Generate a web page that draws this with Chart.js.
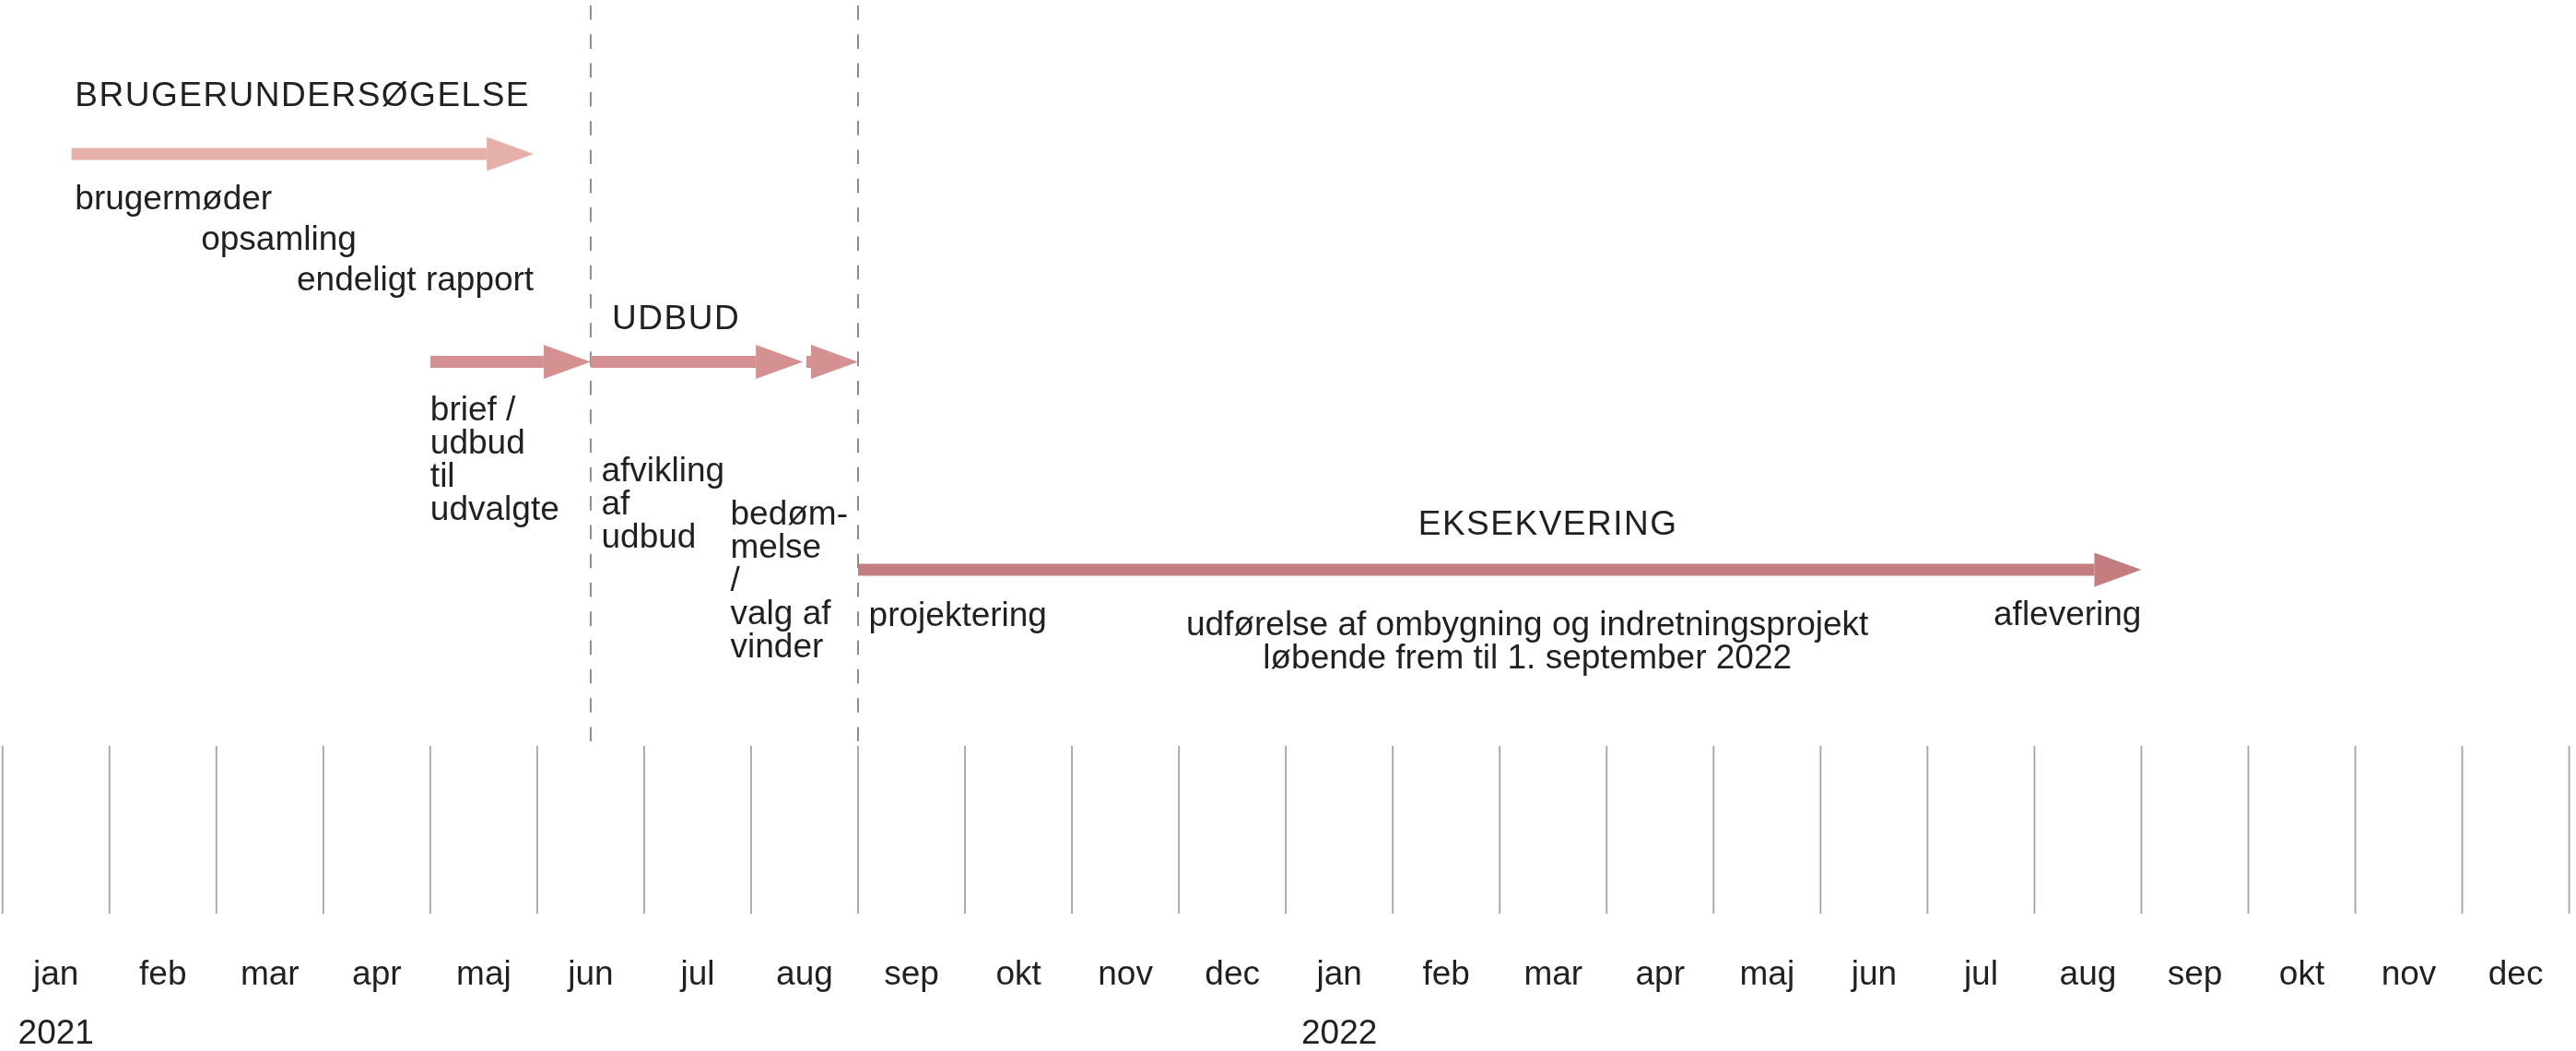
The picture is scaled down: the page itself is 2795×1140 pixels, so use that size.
<!DOCTYPE html>
<html>
<head>
<meta charset="utf-8">
<script src="https://cdn.jsdelivr.net/npm/chart.js@4.4.1/dist/chart.umd.min.js"></script>
<style>
  html, body { margin: 0; padding: 0; background: #ffffff; }
  #wrap { width: 2795px; height: 1140px; position: relative; }
</style>
</head>
<body>
<div id="wrap"><canvas id="c"></canvas></div>
<script>
// ---------------- DATA ----------------
const monthLabels = ['jan','feb','mar','apr','maj','jun','jul','aug','sep','okt','nov','dec',
                     'jan','feb','mar','apr','maj','jun','jul','aug','sep','okt','nov','dec'];
const yearLabels  = ['2021','','','','','','','','','','','',
                     '2022','','','','','','','','','','',''];

const phaseNames      = ['BRUGERUNDERSØGELSE', 'UDBUD', 'EKSEKVERING'];
const phaseLabelDates = ['2021-01-22', '2021-06-22', '2022-03-15'];

const stepNames  = ['brugerundersøgelse', 'brief / udbud til udvalgte', 'afvikling af udbud',
                    'bedømmelse / valg af vinder', 'eksekvering'];
const stepStarts = ['2021-01-21', '2021-05-01', '2021-06-16', '2021-08-17', '2021-09-01'];
const stepEnds   = ['2021-05-31', '2021-06-16', '2021-08-16', '2021-09-01', '2022-09-01'];
const stepPhase  = [0, 1, 1, 1, 2];

const milestoneDates = ['2021-06-16', '2021-09-01'];

const noteTexts = [
  ['brugermøder'],
  ['opsamling'],
  ['endeligt rapport'],
  ['brief /', 'udbud', 'til', 'udvalgte'],
  ['afvikling', 'af', 'udbud'],
  ['bedøm-', 'melse', '/', 'valg af', 'vinder'],
  ['projektering'],
  ['udførelse af ombygning og indretningsprojekt', 'løbende frem til 1. september 2022'],
  ['aflevering']
];
const noteDates = ['2021-01-22', '2021-02-25', '2021-05-31', '2021-05-01', '2021-06-19',
                   '2021-07-26', '2021-09-04', '2022-03-09', '2022-09-01'];
const notePhase = [0, 0, 0, 1, 1, 1, 2, 2, 2];

// ---------------- LAYOUT / STYLE ----------------
const FONT = '"Liberation Sans", Arial, Helvetica, sans-serif';
const FONT_SIZE = 37;
const TEXT_COLOR = '#231f20';
const stepColors = ['#e6b0aa', '#d59191', '#d59191', '#d59191', '#c47d7e'];
const phaseLabelAlign = ['left', 'left', 'center'];
const phaseLabelDy = [-52, -35.5, -38];
const noteAlign = ['left', 'left', 'right', 'left', 'left', 'left', 'left', 'center', 'right'];
const noteDy = [60, 104, 148, 63.5, 129.5, 176.5, 61, 71, 60];
const LINE_H = 36;
const SHAFT = 13, HEAD_LEN = 51, HEAD_HALF = 18.5;
const GRID_SPAN = 182;
const DASH_TOP = 6;

function monthIndex(s) {
  const [Y, M, D] = s.split('-').map(Number);
  const dim = new Date(Y, M, 0).getDate();
  return (Y - 2021) * 12 + (M - 1) + (D - 1) / dim;
}

const datasets = stepNames.map((name, i) => ({
  label: name,
  data: [
    { x: monthIndex(stepStarts[i]), y: stepPhase[i] },
    { x: monthIndex(stepEnds[i]),   y: stepPhase[i] }
  ],
  xAxisID: 't',
  yAxisID: 'y',
  showLine: false,
  pointRadius: 0,
  pointHoverRadius: 0,
  backgroundColor: stepColors[i],
  borderColor: stepColors[i]
}));

const timelinePlugin = {
  id: 'timeline',
  beforeDatasetsDraw(chart) {
    const { ctx, chartArea, scales } = chart;
    const t = scales.t;
    ctx.save();
    ctx.strokeStyle = '#a3a3a3';
    ctx.lineWidth = 1.8;
    const gTop = chartArea.bottom - GRID_SPAN;
    for (let i = 0; i <= monthLabels.length; i++) {
      const x = t.getPixelForValue(i);
      ctx.beginPath();
      ctx.moveTo(x, gTop);
      ctx.lineTo(x, chartArea.bottom);
      ctx.stroke();
    }
    ctx.strokeStyle = '#8c8c8c';
    ctx.lineWidth = 2;
    ctx.setLineDash([15.6, 15.7]);
    milestoneDates.forEach(d => {
      const x = t.getPixelForValue(monthIndex(d));
      ctx.beginPath();
      ctx.moveTo(x, DASH_TOP);
      ctx.lineTo(x, gTop);
      ctx.stroke();
    });
    ctx.restore();
  },
  afterDatasetsDraw(chart) {
    const { ctx, scales } = chart;
    const t = scales.t, y = scales.y;
    ctx.save();
    chart.data.datasets.forEach((ds, i) => {
      const meta = chart.getDatasetMeta(i);
      const p0 = meta.data[0], p1 = meta.data[1];
      const yc = p0.y;
      const base = p1.x - HEAD_LEN;
      ctx.fillStyle = ds.backgroundColor;
      if (base > p0.x) ctx.fillRect(p0.x, yc - SHAFT / 2, base - p0.x, SHAFT);
      ctx.beginPath();
      ctx.moveTo(base, yc - HEAD_HALF);
      ctx.lineTo(p1.x, yc);
      ctx.lineTo(base, yc + HEAD_HALF);
      ctx.closePath();
      ctx.fill();
    });
    ctx.fillStyle = TEXT_COLOR;
    ctx.textBaseline = 'alphabetic';
    ctx.font = FONT_SIZE + 'px ' + FONT;
    ctx.letterSpacing = '1.5px';
    phaseNames.forEach((name, i) => {
      ctx.textAlign = phaseLabelAlign[i];
      const x = t.getPixelForValue(monthIndex(phaseLabelDates[i]));
      const yy = y.getPixelForValue(i) + phaseLabelDy[i];
      ctx.fillText(name, x, yy);
    });
    ctx.letterSpacing = '0px';
    noteTexts.forEach((lines, i) => {
      ctx.textAlign = noteAlign[i];
      const x = t.getPixelForValue(monthIndex(noteDates[i]));
      const y0 = y.getPixelForValue(notePhase[i]) + noteDy[i];
      lines.forEach((ln, k) => ctx.fillText(ln, x, y0 + k * LINE_H));
    });
    ctx.restore();
  }
};

const LANE_PX = 225.5, LANE0_PX = 167, AREA_H = 991;

function fixAxis(h) {
  return function (scale) {
    scale.height = h;
    scale.paddingLeft = 0;
    scale.paddingRight = 0;
  };
}

new Chart(document.getElementById('c'), {
  type: 'line',
  data: { datasets },
  options: {
    responsive: true,
    maintainAspectRatio: false,
    devicePixelRatio: 1,
    animation: false,
    events: [],
    layout: { padding: { left: 2.7, right: 7.4, top: 0, bottom: 0 } },
    plugins: { legend: { display: false }, tooltip: { enabled: false } },
    scales: {
      t: { type: 'linear', min: 0, max: monthLabels.length, display: false },
      y: { type: 'linear', reverse: true,
           min: -LANE0_PX / LANE_PX, max: (AREA_H - LANE0_PX) / LANE_PX, display: false },
      x: {
        type: 'category', labels: monthLabels, position: 'bottom', offset: true, weight: 0,
        grid: { display: false, drawTicks: false, tickLength: 0 },
        border: { display: false },
        ticks: { autoSkip: false, maxRotation: 0, minRotation: 0, padding: 48,
                 color: TEXT_COLOR, font: { family: FONT, size: FONT_SIZE, lineHeight: 1 } },
        afterFit: fixAxis(90)
      },
      year: {
        type: 'category', labels: yearLabels, position: 'bottom', offset: true, weight: 1,
        grid: { display: false, drawTicks: false, tickLength: 0 },
        border: { display: false },
        ticks: { autoSkip: false, maxRotation: 0, minRotation: 0, padding: 22,
                 color: TEXT_COLOR, font: { family: FONT, size: FONT_SIZE, lineHeight: 1 } },
        afterFit: fixAxis(59)
      }
    }
  },
  plugins: [timelinePlugin]
});
</script>
</body>
</html>
